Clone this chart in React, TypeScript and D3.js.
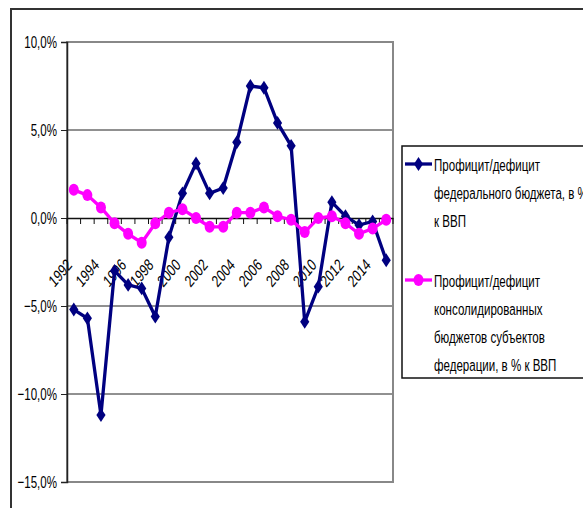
import React, { useEffect, useRef } from "react";
import * as d3 from "d3";

const years = d3.range(1992, 2016).map(String);
const federal = [
  -5.2, -5.7, -11.2, -3.0, -3.8, -4.0, -5.6, -1.1, 1.4, 3.1, 1.4, 1.7, 4.3, 7.5,
  7.4, 5.4, 4.1, -5.9, -3.9, 0.9, 0.1, -0.4, -0.2, -2.4,
];
const regional = [
  1.6, 1.3, 0.6, -0.3, -0.9, -1.4, -0.3, 0.3, 0.5, 0.0, -0.5, -0.5, 0.3, 0.3,
  0.6, 0.1, -0.1, -0.8, 0.0, 0.1, -0.3, -0.9, -0.6, -0.1,
];
const yTicks = [10, 5, 0, -5, -10, -15];
const legendFederal = ["Профицит/дефицит", "федерального бюджета, в %", "к ВВП"];
const legendRegional = [
  "Профицит/дефицит",
  "консолидированных",
  "бюджетов субъектов",
  "федерации, в % к ВВП",
];

// condensed look of the original (Arial Narrow) faked by a horizontal squeeze
const FONT = "'Liberation Sans', Arial, sans-serif";
const SQ = 0.68;

const App: React.FC = () => {
  const svgRef = useRef<SVGSVGElement>(null);

  useEffect(() => {
    if (!svgRef.current) return;
    const svg = d3.select(svgRef.current);
    svg.selectAll("*").remove();

    const plot = { left: 67, top: 42, right: 393, bottom: 482 };

    // outer chart border
    svg
      .append("rect")
      .attr("x", 11)
      .attr("y", 9)
      .attr("width", 600)
      .attr("height", 520)
      .attr("fill", "white")
      .attr("stroke", "#333")
      .attr("stroke-width", 2);

    const x = d3
      .scaleBand()
      .domain(years)
      .range([plot.left, plot.right])
      .padding(0);
    const y = d3.scaleLinear().domain([-15, 10]).range([plot.bottom, plot.top]);
    const cx = (d: string) => (x(d) || 0) + x.bandwidth() / 2;

    // gridlines
    svg
      .append("g")
      .selectAll("line")
      .data(yTicks.filter((t) => t !== 0 && t !== 10 && t !== -15))
      .enter()
      .append("line")
      .attr("x1", plot.left)
      .attr("x2", plot.right)
      .attr("y1", (d) => y(d))
      .attr("y2", (d) => y(d))
      .attr("stroke", "#222")
      .attr("stroke-width", 1);

    // plot area border (gray)
    svg
      .append("rect")
      .attr("x", plot.left)
      .attr("y", plot.top)
      .attr("width", plot.right - plot.left)
      .attr("height", plot.bottom - plot.top)
      .attr("fill", "none")
      .attr("stroke", "#888")
      .attr("stroke-width", 2);

    // y axis
    const yAxis = svg
      .append("g")
      .attr("transform", `translate(${plot.left},0)`)
      .call(
        d3
          .axisLeft(y)
          .tickValues(yTicks)
          .tickSize(6)
          .tickFormat((d) => d3.format(".1f")(d as number).replace(".", ",") + "%")
      );
    yAxis.select(".domain").attr("stroke", "#222").attr("stroke-width", 1.5);
    yAxis.selectAll(".tick line").attr("stroke", "#222");
    yAxis
      .selectAll("text")
      .attr("fill", "#000")
      .style("font-family", FONT)
      .style("font-size", "17px")
      .attr("x", -10 / SQ)
      .attr("transform", `scale(${SQ},1)`);

    // x axis at zero
    const xAxis = svg
      .append("g")
      .attr("transform", `translate(0,${y(0)})`)
      .call(d3.axisBottom(x).tickSize(0).tickFormat(() => ""));
    xAxis.select(".domain").attr("stroke", "#111").attr("stroke-width", 1.5);
    xAxis
      .append("g")
      .selectAll("line")
      .data(d3.range(years.length + 1))
      .enter()
      .append("line")
      .attr("x1", (i) => plot.left + i * x.step())
      .attr("x2", (i) => plot.left + i * x.step())
      .attr("y1", 0)
      .attr("y2", 6)
      .attr("stroke", "#111");

    // year labels, every second one, slanted
    svg
      .append("g")
      .selectAll("text")
      .data(years.filter((_, i) => i % 2 === 0))
      .enter()
      .append("text")
      .attr(
        "transform",
        (d) =>
          `translate(${cx(d) - 1},${y(0) + 48}) scale(0.83,1) rotate(-45) scale(0.82,1)`
      )
      .attr("text-anchor", "end")
      .style("font-family", FONT)
      .style("font-size", "17px")
      .text((d) => d);

    const line = d3
      .line<number>()
      .x((_, i) => cx(years[i]))
      .y((d) => y(d));

    // federal series
    svg
      .append("path")
      .datum(federal)
      .attr("d", line)
      .attr("fill", "none")
      .attr("stroke", "#000080")
      .attr("stroke-width", 3.3);
    const diamond = d3.symbol().type(d3.symbolDiamond).size(55);
    svg
      .append("g")
      .selectAll("path")
      .data(federal)
      .enter()
      .append("path")
      .attr("d", diamond)
      .attr("transform", (d, i) => `translate(${cx(years[i])},${y(d)}) scale(1.15,1)`)
      .attr("fill", "#000080");

    // regional series
    svg
      .append("path")
      .datum(regional)
      .attr("d", line)
      .attr("fill", "none")
      .attr("stroke", "#FF00FF")
      .attr("stroke-width", 3.3);
    svg
      .append("g")
      .selectAll("ellipse")
      .data(regional)
      .enter()
      .append("ellipse")
      .attr("cx", (_, i) => cx(years[i]))
      .attr("cy", (d) => y(d))
      .attr("rx", 5)
      .attr("ry", 6)
      .attr("fill", "#FF00FF");

    // legend
    const legend = svg.append("g");
    legend
      .append("rect")
      .attr("x", 402)
      .attr("y", 146)
      .attr("width", 200)
      .attr("height", 232)
      .attr("fill", "white")
      .attr("stroke", "#111")
      .attr("stroke-width", 1.5);

    const entries = [
      { lines: legendFederal, color: "#000080", marker: "diamond", top: 171 },
      { lines: legendRegional, color: "#FF00FF", marker: "circle", top: 287 },
    ];
    entries.forEach((e) => {
      const my = e.top - 7;
      legend
        .append("line")
        .attr("x1", 405)
        .attr("x2", 432)
        .attr("y1", my)
        .attr("y2", my)
        .attr("stroke", e.color)
        .attr("stroke-width", 3.3);
      if (e.marker === "diamond") {
        legend
          .append("path")
          .attr("d", diamond)
          .attr("transform", `translate(418.5,${my}) scale(1.15,1)`)
          .attr("fill", e.color);
      } else {
        legend
          .append("ellipse")
          .attr("cx", 418.5)
          .attr("cy", my)
          .attr("rx", 5)
          .attr("ry", 6)
          .attr("fill", e.color);
      }
      legend
        .append("g")
        .selectAll("text")
        .data(e.lines)
        .enter()
        .append("text")
        .attr("transform", (_, i) => `translate(434,${e.top + i * 28}) scale(${SQ},1)`)
        .style("font-family", FONT)
        .style("font-size", "17px")
        .text((d) => d);
    });
  }, []);

  return (
    <svg
      ref={svgRef}
      width={583}
      height={508}
      style={{ position: "absolute", left: 0, top: 0, background: "white" }}
    />
  );
};

export default App;
